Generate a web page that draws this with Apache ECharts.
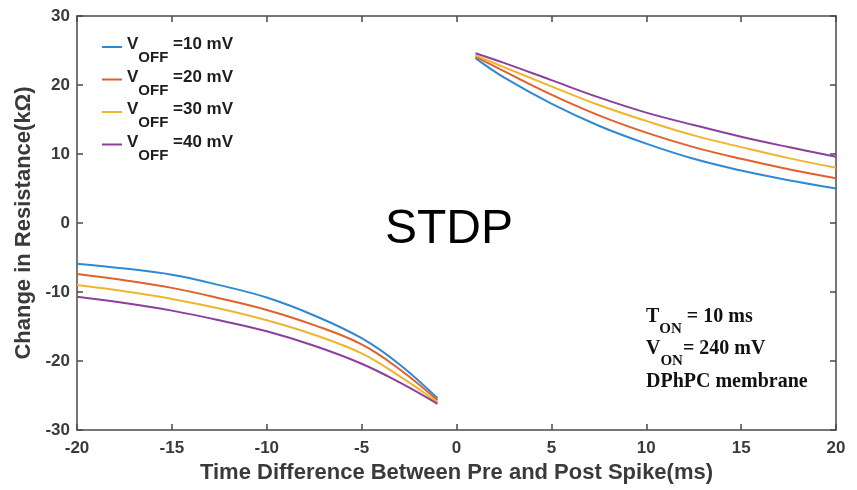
<!DOCTYPE html>
<html>
<head>
<meta charset="utf-8">
<script src="https://cdn.jsdelivr.net/npm/echarts@6/dist/echarts.min.js"></script>
<style>
html,body{margin:0;padding:0;background:#fff;}
#chart{width:857px;height:490px;}
</style>
</head>
<body>
<div id="chart"></div>
<script>
// Left branch (pre after post), x in ms
var xLeft = [-20, -17.5, -15, -12.5, -10, -7.5, -5, -3, -1];
// Right branch
var xRight = [1, 2.5, 5, 7.5, 10, 12.5, 15, 17.5, 20];

var seriesNames = ['10', '20', '30', '40'];
var leftV10 = [-5.9, -6.6, -7.5, -9.0, -10.8, -13.4, -16.7, -20.5, -25.4];
var leftV20 = [-7.4, -8.3, -9.4, -10.9, -12.6, -14.8, -17.6, -21.2, -25.7];
var leftV30 = [-9.0, -9.9, -11.0, -12.4, -14.1, -16.2, -18.9, -22.2, -26.0];
var leftV40 = [-10.7, -11.6, -12.7, -14.1, -15.7, -17.8, -20.4, -23.1, -26.2];

var rightV10 = [23.9, 21.1, 17.3, 14.1, 11.5, 9.3, 7.6, 6.2, 5.0];
var rightV20 = [24.1, 22.0, 18.6, 15.6, 13.1, 11.0, 9.3, 7.8, 6.5];
var rightV30 = [24.3, 22.6, 19.8, 17.1, 14.8, 12.7, 11.0, 9.4, 8.0];
var rightV40 = [24.6, 23.2, 20.7, 18.2, 16.0, 14.2, 12.5, 11.0, 9.6];

var colors = ['#2f89d3', '#e0612c', '#efb52c', '#8c409e'];

var leftData = [leftV10, leftV20, leftV30, leftV40];
var rightData = [rightV10, rightV20, rightV30, rightV40];

function pairs(xs, ys) {
  return xs.map(function (x, i) { return [x, ys[i]]; });
}

var series = [];
seriesNames.forEach(function (n, k) {
  var common = {
    name: n,
    type: 'line',
    smooth: 0.4,
    showSymbol: false,
    symbol: 'none',
    color: colors[k],
    lineStyle: { width: 2, color: colors[k] },
    z: 2 + k
  };
  series.push(Object.assign({}, common, { data: pairs(xLeft, leftData[k]) }));
  series.push(Object.assign({}, common, { data: pairs(xRight, rightData[k]) }));
});

var axisCol = '#4a4a4a';
var sans = 'Liberation Sans, Arial, sans-serif';
var serif = 'Liberation Serif, Times New Roman, serif';
var labelFont = { fontFamily: sans, fontWeight: 'bold', fontSize: 17, color: '#3a3a3a' };
var nameFont = { fontFamily: sans, fontWeight: 'bold', fontSize: 22, color: '#3a3a3a' };

var annRich = {
  a: { fontFamily: serif, fontWeight: 'bold', fontSize: 20, color: '#111', lineHeight: 22, verticalAlign: 'top' },
  s: { fontFamily: serif, fontWeight: 'bold', fontSize: 15, color: '#111', lineHeight: 15, verticalAlign: 'top', padding: [15, 0, 0, 0] }
};

var chart = echarts.init(document.getElementById('chart'));
chart.setOption({
  animation: false,
  backgroundColor: '#fff',
  grid: { left: 77, right: 21, top: 16, bottom: 60, containLabel: false },
  xAxis: [{
    type: 'value', min: -20, max: 20, interval: 5,
    axisLine: { show: true, onZero: false, lineStyle: { color: axisCol, width: 1.5 } },
    axisTick: { inside: true, length: 6, lineStyle: { color: axisCol, width: 1.5 } },
    splitLine: { show: false },
    axisLabel: Object.assign({ margin: 10 }, labelFont),
    name: 'Time Difference Between Pre and Post Spike(ms)',
    nameLocation: 'middle', nameGap: 29,
    nameTextStyle: nameFont
  }, {
    type: 'value', min: -20, max: 20, interval: 5, position: 'top',
    axisLine: { show: true, onZero: false, lineStyle: { color: axisCol, width: 1.5 } },
    axisTick: { inside: true, length: 6, lineStyle: { color: axisCol, width: 1.5 } },
    splitLine: { show: false }, axisLabel: { show: false }
  }],
  yAxis: [{
    type: 'value', min: -30, max: 30, interval: 10,
    axisLine: { show: true, onZero: false, lineStyle: { color: axisCol, width: 1.5 } },
    axisTick: { inside: true, length: 6, lineStyle: { color: axisCol, width: 1.5 } },
    splitLine: { show: false },
    axisLabel: Object.assign({ margin: 7 }, labelFont),
    name: 'Change in Resistance(kΩ)',
    nameLocation: 'middle', nameGap: 38,
    nameTextStyle: nameFont
  }, {
    type: 'value', min: -30, max: 30, interval: 10, position: 'right',
    axisLine: { show: true, onZero: false, lineStyle: { color: axisCol, width: 1.5 } },
    axisTick: { inside: true, length: 6, lineStyle: { color: axisCol, width: 1.5 } },
    splitLine: { show: false }, axisLabel: { show: false }
  }],
  legend: {
    orient: 'vertical', left: 97, top: 31,
    itemWidth: 20, itemHeight: 2, itemGap: 3,
    icon: 'rect',
    data: seriesNames,
    formatter: function (name) { return '{v|V}{s|OFF}{v| =' + name + ' mV}'; },
    textStyle: {
      rich: {
        v: { fontFamily: sans, fontWeight: 'bold', fontSize: 17, color: '#1e1e1e', lineHeight: 22, verticalAlign: 'top' },
        s: { fontFamily: sans, fontWeight: 'bold', fontSize: 15, color: '#1e1e1e', lineHeight: 14, verticalAlign: 'top', padding: [14.5, 0, 0, 0] }
      }
    }
  },
  title: [{
    text: 'STDP', left: 380, top: 201,
    textStyle: { fontFamily: sans, fontWeight: 'normal', fontSize: 48, lineHeight: 48, color: '#000' }
  }, {
    text: '{a|T}{s|ON}{a| = 10 ms}', left: 641, top: 302,
    textStyle: { rich: annRich }
  }, {
    text: '{a|V}{s|ON}{a|= 240 mV}', left: 641, top: 334,
    textStyle: { rich: annRich }
  }, {
    text: '{a|DPhPC membrane}', left: 641, top: 367,
    textStyle: { rich: annRich }
  }],
  series: series
});
</script>
</body>
</html>
